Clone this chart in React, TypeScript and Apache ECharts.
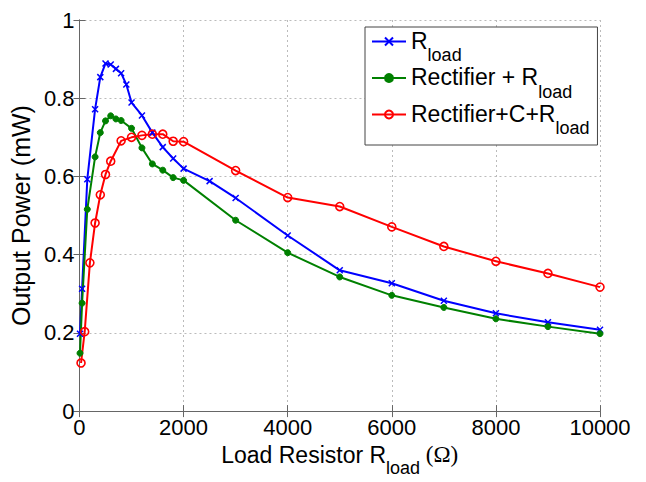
import React, { useEffect, useRef } from "react";
import * as echarts from "echarts";

// ---- data ----
const xTicks = [0, 2000, 4000, 6000, 8000, 10000];
const yTicks = [0, 0.2, 0.4, 0.6, 0.8, 1];

const rloadX = [10, 50, 150, 300, 400, 500, 600, 700, 800, 900, 1000, 1200, 1400, 1600, 1800, 2000, 2500, 3000, 4000, 5000, 6000, 7000, 8000, 9000, 10000];
const rloadY = [0.198, 0.313, 0.593, 0.772, 0.854, 0.889, 0.886, 0.875, 0.864, 0.835, 0.789, 0.756, 0.712, 0.675, 0.646, 0.62, 0.588, 0.545, 0.449, 0.36, 0.327, 0.282, 0.25, 0.227, 0.208];

const rectX = [10, 50, 150, 300, 400, 500, 600, 700, 800, 1000, 1200, 1400, 1600, 1800, 2000, 3000, 4000, 5000, 6000, 7000, 8000, 9000, 10000];
const rectY = [0.148, 0.276, 0.516, 0.65, 0.712, 0.742, 0.755, 0.747, 0.743, 0.723, 0.673, 0.632, 0.616, 0.597, 0.59, 0.488, 0.405, 0.343, 0.296, 0.265, 0.236, 0.216, 0.198];

const rectCX = [30, 100, 200, 300, 400, 500, 600, 800, 1000, 1200, 1400, 1600, 1800, 2000, 3000, 4000, 5000, 6000, 7000, 8000, 9000, 10000];
const rectCY = [0.123, 0.203, 0.379, 0.481, 0.553, 0.605, 0.639, 0.691, 0.7, 0.705, 0.708, 0.708, 0.69, 0.689, 0.615, 0.546, 0.523, 0.471, 0.421, 0.383, 0.352, 0.317];

const seriesNames = ["R{s|load}", "Rectifier + R{s|load}", "Rectifier+C+R{s|load}"];

const FONT = "Liberation Sans";

function zip(xs: number[], ys: number[]) {
  return xs.map((x, i) => [x, ys[i]]);
}

export default function App() {
  const ref = useRef<HTMLDivElement>(null);
  useEffect(() => {
    if (!ref.current) return;
    const chart = echarts.init(ref.current, null, { renderer: "svg" });
    const axisLine = { show: true, lineStyle: { color: "#666", width: 1 } };
    const tick = { show: true, inside: true, length: 6, lineStyle: { color: "#666" } };
    const legendRich = {
      m: { fontSize: 23, lineHeight: 25, verticalAlign: "top", fontFamily: FONT, color: "#000" },
      s: { fontSize: 18, lineHeight: 18, padding: [17, 0, 0, 0], verticalAlign: "top", fontFamily: FONT, color: "#000" },
    };
    const option: any = {
      animation: false,
      backgroundColor: "#fff",
      grid: { left: 77, right: 46, top: 20, bottom: 57, containLabel: false },
      xAxis: [
        {
          type: "value",
          min: xTicks[0],
          max: xTicks[xTicks.length - 1],
          interval: xTicks[1] - xTicks[0],
          axisLine,
          axisTick: tick,
          axisLabel: { color: "#000", fontSize: 22, fontFamily: FONT, margin: 5, formatter: (v: number) => String(v) },
          splitLine: { show: true, lineStyle: { color: "#bbb", type: [2, 3], width: 1 } },
          name: "{a|Load Resistor R}{b|load}{c| (Ω)}",
          nameLocation: "middle",
          nameGap: 31,
          nameTextStyle: {
            rich: {
              a: { fontSize: 23, lineHeight: 26, verticalAlign: "top", fontFamily: FONT, color: "#000" },
              b: { fontSize: 18, lineHeight: 18, padding: [16, 0, 0, 0], verticalAlign: "top", fontFamily: FONT, color: "#000" },
              c: { fontSize: 23, lineHeight: 26, verticalAlign: "top", fontFamily: "Liberation Serif", color: "#000" },
            },
          },
        },
        {
          type: "value",
          position: "top",
          min: xTicks[0],
          max: xTicks[xTicks.length - 1],
          interval: xTicks[1] - xTicks[0],
          axisLine,
          axisTick: tick,
          axisLabel: { show: false },
          splitLine: { show: false },
        },
      ],
      yAxis: [
        {
          type: "value",
          min: yTicks[0],
          max: yTicks[yTicks.length - 1],
          interval: yTicks[1] - yTicks[0],
          axisLine,
          axisTick: tick,
          axisLabel: { color: "#000", fontSize: 22, fontFamily: FONT, margin: 5 },
          splitLine: { show: true, lineStyle: { color: "#bbb", type: [2, 3], width: 1 } },
          name: "Output Power (mW)",
          nameLocation: "middle",
          nameGap: 43,
          nameTextStyle: { fontSize: 25, fontFamily: FONT, color: "#000" },
        },
        {
          type: "value",
          position: "right",
          min: yTicks[0],
          max: yTicks[yTicks.length - 1],
          interval: yTicks[1] - yTicks[0],
          axisLine,
          axisTick: tick,
          axisLabel: { show: false },
          splitLine: { show: false },
        },
      ],
      legend: {
        orient: "vertical",
        left: 365,
        top: 27,
        padding: [2, 8, 8, 6],
        itemGap: 1.5,
        itemWidth: 34,
        itemHeight: 10,
        backgroundColor: "#fff",
        borderColor: "#444",
        borderWidth: 1,
        borderRadius: 0,
        formatter: (name: string) => {
          const i = name.indexOf("{s|");
          return "{m|" + name.slice(0, i) + "}" + name.slice(i);
        },
        textStyle: { fontSize: 23, fontFamily: FONT, color: "#000", rich: legendRich },
        data: seriesNames,
      },
      series: [
        {
          name: seriesNames[0],
          type: "line",
          xAxisIndex: 0,
          yAxisIndex: 0,
          data: zip(rloadX, rloadY),
          symbol: "path://M0,0L10,10M10,0L0,10",
          symbolSize: 6,
          lineStyle: { color: "#0000ff", width: 2 },
          itemStyle: { color: "#0000ff", borderColor: "#0000ff", borderWidth: 1.5 },
        },
        {
          name: seriesNames[1],
          type: "line",
          xAxisIndex: 0,
          yAxisIndex: 0,
          data: zip(rectX, rectY),
          symbol: "circle",
          symbolSize: 6,
          lineStyle: { color: "#008000", width: 2 },
          itemStyle: { color: "#008000", borderColor: "#008000", borderWidth: 1 },
        },
        {
          name: seriesNames[2],
          type: "line",
          xAxisIndex: 0,
          yAxisIndex: 0,
          data: zip(rectCX, rectCY),
          symbol: "circle",
          symbolSize: 8,
          lineStyle: { color: "#ff0000", width: 2 },
          itemStyle: { color: "rgba(0,0,0,0)", borderColor: "#ff0000", borderWidth: 1.6 },
        },
      ],
    };
    chart.setOption(option);
    return () => chart.dispose();
  }, []);
  return (
    <div
      ref={ref}
      style={{ position: "fixed", left: 0, top: 0, width: 646, height: 482, background: "#fff" }}
    />
  );
}
